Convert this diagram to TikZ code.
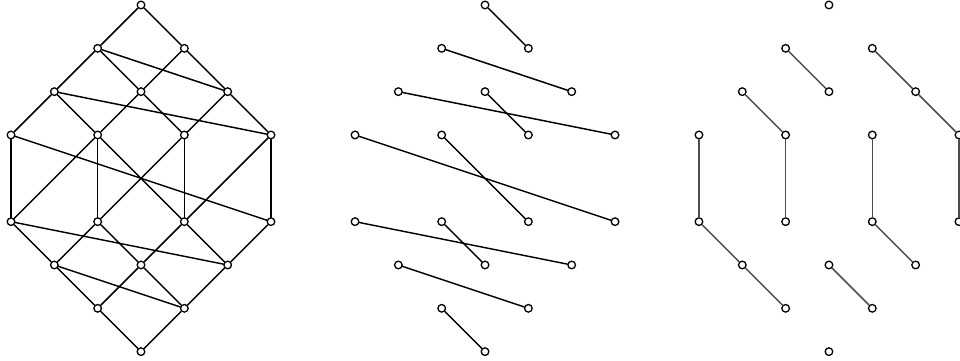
\documentclass[tikz,border=0pt]{standalone}
\usepackage{tikz}
\tikzset{
	vertex/.style={circle, draw=black, fill=white, inner sep=0pt, minimum size=5pt, line width=0.85pt},
	link/.style={line width=0.95pt, line cap=round},
	chainlink/.style={link, draw=black!70}
}

\begin{document}
\begin{tikzpicture}
	\useasboundingbox (0,0) rectangle (22.154,-8.308);
	% the twenty elements, once for each of the three pictures
	\foreach \p/\dx in {L/0.254, M/8.193, R/16.13} {
		\foreach \c/\r in {3/0, 2/1, 4/1, 1/2, 3/2, 5/2, 0/3, 2/3, 4/3, 6/3,
			0/5, 2/5, 4/5, 6/5, 1/6, 3/6, 5/6, 2/7, 4/7, 3/8} {
			\node[vertex] (\p\c\r) at ({\dx+\c},{-0.115-\r}) {};
		}
	}
	% full order
	\foreach \a/\b in {30/21, 30/41, 21/12, 21/32, 21/52, 41/32, 41/52,
		12/03, 12/23, 12/63, 32/23, 32/43, 52/43, 52/63,
		03/05, 03/65, 23/05, 23/25, 23/45, 43/25, 43/45, 63/45, 63/65,
		05/16, 05/56, 25/16, 25/36, 45/36, 45/56, 65/56,
		16/27, 16/47, 36/27, 36/47, 56/47, 27/38, 47/38}
		\draw[link] (L\a) -- (L\b);
	% matching
	\foreach \a/\b in {30/41, 21/52, 12/63, 32/43, 03/65, 23/45,
		05/56, 25/36, 16/47, 27/38}
		\draw[link] (M\a) -- (M\b);
	% chains
	\foreach \a/\b in {21/32, 41/52, 52/63, 63/65, 12/23, 23/25,
		03/05, 05/16, 16/27, 43/45, 45/56, 36/47}
		\draw[chainlink] (R\a) -- (R\b);
\end{tikzpicture}
\end{document}
